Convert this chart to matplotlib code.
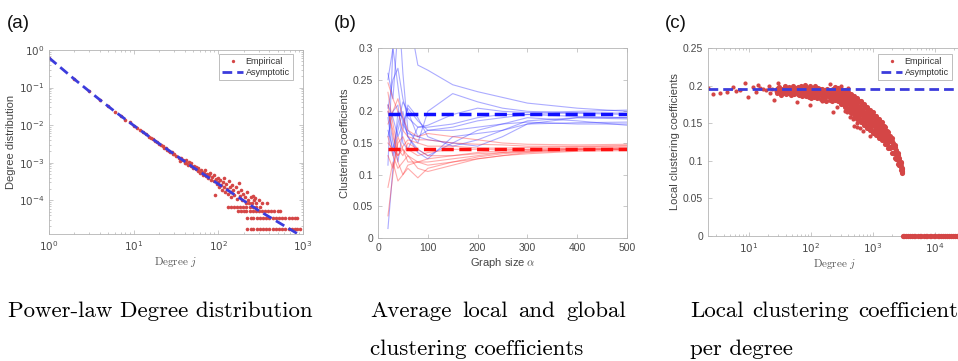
import matplotlib
matplotlib.use("Agg")
import matplotlib.pyplot as plt
import numpy as np
from matplotlib.lines import Line2D
from matplotlib.ticker import FixedLocator, FuncFormatter, LogLocator, NullFormatter

W, H = 958, 361
RED = '#d44646'
BLUE = '#3c3cdc'

# ---- (a) degree distribution ----
deg_j = [1, 2, 3, 4, 5, 6, 7, 8, 9, 10, 11, 12, 13, 14, 15, 16, 17, 18, 19, 20,
         21, 22, 23, 24, 25, 26, 27, 28, 29, 30]
deg_p = [0.62, 0.165, 0.080, 0.047, 0.0318, 0.0226, 0.0180, 0.0140, 0.0118, 0.0097,
         0.0086, 0.0072, 0.0065, 0.0058, 0.0049, 0.0046, 0.0042, 0.0037, 0.0035, 0.0032,
         0.0029, 0.0027, 0.0025, 0.0024, 0.0022, 0.0021, 0.0019, 0.0019, 0.0017, 0.0017]
tail_j = [32, 34, 35, 36, 38, 40, 41, 42, 44, 45, 47, 48, 50, 52, 54, 55, 57, 58, 60, 62,
          64, 66, 68, 70, 72, 74, 76, 78, 80, 82, 85, 88, 90, 91, 93, 96, 98, 100, 103, 106,
          108, 110, 113, 116, 118, 120, 124, 127, 130, 133, 136, 140, 143, 146, 150, 155, 160,
          165, 170, 175, 180, 186, 192, 198, 205, 210, 218, 225, 232, 240, 250, 255, 265, 270,
          280, 300, 330, 373]
tail_p = [1.5e-3, 1.35e-3, 1.1e-3, 1.3e-3, 1.15e-3, 9.5e-4, 1.2e-3, 1.0e-3, 8.5e-4, 1.05e-3,
          8.2e-4, 9.5e-4, 7.2e-4, 8.4e-4, 6.6e-4, 7.8e-4, 6.0e-4, 7.2e-4, 5.2e-4, 6.5e-4,
          5.6e-4, 4.6e-4, 5.4e-4, 6.2e-4, 4.3e-4, 5.0e-4, 3.8e-4, 4.6e-4, 5.4e-4, 3.4e-4,
          4.2e-4, 3.2e-4, 4.8e-4, 1.35e-4, 3.6e-4, 2.7e-4, 4.0e-4, 3.0e-4, 2.2e-4, 3.5e-4,
          2.6e-4, 1.9e-4, 3.1e-4, 2.3e-4, 4.0e-4, 1.7e-4, 2.7e-4, 2.0e-4, 1.5e-4, 3.3e-4,
          2.3e-4, 1.7e-4, 1.2e-4, 2.6e-4, 1.9e-4, 1.4e-4, 2.2e-4, 1.1e-4, 1.7e-4, 2.9e-4,
          1.3e-4, 1.9e-4, 1.0e-4, 1.5e-4, 1.2e-4, 8.5e-5, 1.7e-4, 1.0e-4, 8.5e-5, 1.2e-4,
          8.5e-5, 1.3e-4, 1.0e-4, 1.15e-4, 8.5e-5, 1.0e-4, 8.5e-5, 8.3e-5]
band1_j = [220, 240, 260, 285, 310, 340, 370, 400, 440, 480, 520, 570, 620, 680, 740, 800, 860, 910]
band2_j = [220, 240, 260, 285, 310, 340, 370, 400, 440, 480, 520, 570, 620, 680, 740, 800, 850]
band3_j = [170, 185, 200, 215, 235, 255, 275, 300, 325, 355, 385, 420, 460, 500, 530]
band4_j = [130, 142, 155, 168, 182, 198, 215, 235, 255, 280, 310]
band_p = [1.7e-5, 3.4e-5, 5.1e-5, 6.8e-5]
asym_a_j = [1, 2, 3, 4, 6, 10, 20, 50, 100, 300, 1000]
asym_a_p = [0.62, 0.166, 0.079, 0.047, 0.023, 0.0098, 0.0032, 7.6e-4, 2.7e-4, 5.3e-5, 1.05e-5]

# ---- (b) clustering coefficients vs graph size ----
size_alpha = [20, 30, 40, 50, 60, 80, 100, 150, 200, 250, 300, 400, 500]
local_runs = [
    [0.015, 0.11, 0.20, 0.19, 0.16, 0.14, 0.13, 0.15, 0.17, 0.18, 0.19, 0.185, 0.178],
    [0.26, 0.22, 0.33, 0.40, 0.36, 0.273, 0.265, 0.242, 0.231, 0.222, 0.213, 0.205, 0.200],
    [0.205, 0.25, 0.268, 0.22, 0.19, 0.175, 0.178, 0.195, 0.205, 0.20, 0.198, 0.20, 0.202],
    [0.115, 0.30, 0.38, 0.26, 0.17, 0.15, 0.20, 0.228, 0.215, 0.205, 0.20, 0.197, 0.195],
    [0.20, 0.15, 0.12, 0.17, 0.21, 0.19, 0.16, 0.145, 0.155, 0.17, 0.185, 0.19, 0.188],
    [0.16, 0.20, 0.21, 0.15, 0.14, 0.175, 0.175, 0.18, 0.19, 0.195, 0.195, 0.192, 0.19],
    [0.19, 0.13, 0.17, 0.20, 0.16, 0.135, 0.125, 0.16, 0.165, 0.17, 0.18, 0.182, 0.183],
    [0.21, 0.19, 0.16, 0.18, 0.205, 0.185, 0.17, 0.175, 0.185, 0.19, 0.195, 0.198, 0.197],
    [0.17, 0.14, 0.18, 0.215, 0.20, 0.16, 0.155, 0.15, 0.145, 0.16, 0.18, 0.19, 0.19],
    [0.25, 0.30, 0.24, 0.18, 0.165, 0.16, 0.17, 0.17, 0.175, 0.18, 0.183, 0.18, 0.18],
]
global_runs = [
    [0.035, 0.10, 0.16, 0.14, 0.13, 0.12, 0.12, 0.125, 0.13, 0.135, 0.138, 0.14, 0.14],
    [0.245, 0.22, 0.20, 0.17, 0.16, 0.155, 0.155, 0.15, 0.148, 0.147, 0.145, 0.145, 0.146],
    [0.08, 0.12, 0.09, 0.10, 0.11, 0.095, 0.11, 0.12, 0.125, 0.13, 0.135, 0.138, 0.14],
    [0.16, 0.13, 0.11, 0.12, 0.13, 0.11, 0.105, 0.115, 0.125, 0.13, 0.133, 0.137, 0.138],
    [0.23, 0.18, 0.14, 0.13, 0.15, 0.14, 0.13, 0.13, 0.135, 0.138, 0.14, 0.142, 0.143],
    [0.18, 0.20, 0.22, 0.19, 0.17, 0.16, 0.165, 0.16, 0.155, 0.15, 0.148, 0.147, 0.148],
    [0.21, 0.16, 0.13, 0.14, 0.12, 0.12, 0.125, 0.13, 0.133, 0.135, 0.137, 0.14, 0.142],
    [0.13, 0.11, 0.15, 0.16, 0.14, 0.13, 0.135, 0.14, 0.14, 0.14, 0.14, 0.141, 0.14],
    [0.20, 0.17, 0.12, 0.10, 0.115, 0.12, 0.115, 0.12, 0.128, 0.133, 0.136, 0.14, 0.141],
    [0.15, 0.14, 0.13, 0.145, 0.155, 0.15, 0.145, 0.145, 0.142, 0.142, 0.143, 0.144, 0.145],
]
local_limit = 0.195
global_limit = 0.14

# ---- (c) local clustering per degree ----
sparse_j = [2.2, 2.6, 3.4, 4.4, 5.5, 6.3, 7.2, 8.6, 9.6, 11.6, 13, 14, 15, 17, 19, 21, 22,
            24, 25, 27, 29, 31]
sparse_c = [0.197, 0.189, 0.19, 0.191, 0.198, 0.193, 0.194, 0.203, 0.185, 0.198, 0.192,
            0.201, 0.197, 0.195, 0.194, 0.199, 0.19, 0.196, 0.181, 0.193, 0.203, 0.198]
low_j = [28, 30, 31, 33, 35, 36, 38, 40, 41, 43, 45, 47, 49, 51, 53, 56, 58, 61, 64, 67, 70,
         73, 77, 80, 84, 88, 92, 96, 100, 105, 110, 115, 120, 126, 132, 138, 145, 152, 159,
         166, 174, 182, 190, 199, 208, 218, 228]
low_c1 = [0.195, 0.192, 0.198, 0.194, 0.19, 0.196, 0.193, 0.197, 0.191, 0.195, 0.192, 0.196,
          0.19, 0.194, 0.197, 0.191, 0.195, 0.189, 0.193, 0.196, 0.19, 0.194, 0.188, 0.192,
          0.195, 0.189, 0.193, 0.19, 0.194, 0.187, 0.191, 0.194, 0.188, 0.192, 0.186, 0.19,
          0.193, 0.187, 0.191, 0.185, 0.189, 0.192, 0.186, 0.19, 0.184, 0.188, 0.185]
low_c2 = [0.19, 0.197, 0.193, 0.188, 0.196, 0.191, 0.199, 0.189, 0.196, 0.19, 0.198, 0.188,
          0.195, 0.2, 0.189, 0.197, 0.192, 0.198, 0.187, 0.191, 0.199, 0.186, 0.196, 0.201,
          0.186, 0.197, 0.185, 0.199, 0.183, 0.196, 0.185, 0.2, 0.195, 0.183, 0.197, 0.195,
          0.182, 0.196, 0.181, 0.194, 0.18, 0.196, 0.193, 0.181, 0.194, 0.18, 0.192]
main_j = [230, 245, 260, 275, 290, 310, 330, 350, 370, 395, 420, 445, 470, 500, 530, 560,
          595, 630, 670, 710, 750, 795, 840, 890, 940, 1000, 1060, 1120, 1190, 1260, 1330,
          1410, 1490, 1580, 1670, 1770, 1870, 1980, 2100, 2220, 2350, 2480, 2620, 2770, 2920]
main_c1 = [0.196, 0.198, 0.195, 0.197, 0.194, 0.196, 0.192, 0.194, 0.190, 0.192, 0.188, 0.189,
           0.186, 0.186, 0.182, 0.183, 0.179, 0.180, 0.176, 0.176, 0.171, 0.172, 0.168, 0.168,
           0.164, 0.165, 0.160, 0.160, 0.156, 0.156, 0.151, 0.151, 0.146, 0.145, 0.140, 0.138,
           0.133, 0.130, 0.124, 0.121, 0.115, 0.111, 0.104, 0.099, 0.091]
main_c2 = [0.191, 0.194, 0.192, 0.193, 0.189, 0.191, 0.187, 0.189, 0.185, 0.187, 0.182, 0.184,
           0.179, 0.180, 0.175, 0.177, 0.172, 0.174, 0.168, 0.170, 0.164, 0.166, 0.161, 0.163,
           0.157, 0.159, 0.153, 0.155, 0.149, 0.150, 0.145, 0.146, 0.140, 0.140, 0.134, 0.134,
           0.127, 0.126, 0.119, 0.118, 0.111, 0.108, 0.101, 0.097, 0.089]
main_c3 = [0.189, 0.188, 0.190, 0.187, 0.188, 0.184, 0.185, 0.182, 0.183, 0.179, 0.179, 0.175,
           0.176, 0.171, 0.172, 0.168, 0.169, 0.165, 0.166, 0.161, 0.162, 0.157, 0.158, 0.154,
           0.155, 0.150, 0.151, 0.146, 0.147, 0.142, 0.143, 0.138, 0.139, 0.133, 0.132, 0.127,
           0.126, 0.120, 0.118, 0.112, 0.110, 0.103, 0.100, 0.093, 0.087]
main_c4 = [0.185, 0.187, 0.184, 0.186, 0.181, 0.183, 0.178, 0.180, 0.175, 0.177, 0.171, 0.173,
           0.167, 0.168, 0.162, 0.165, 0.159, 0.162, 0.156, 0.158, 0.152, 0.154, 0.148, 0.151,
           0.145, 0.147, 0.141, 0.143, 0.137, 0.139, 0.133, 0.135, 0.130, 0.130, 0.124, 0.125,
           0.118, 0.118, 0.111, 0.110, 0.104, 0.101, 0.095, 0.092, 0.085]
main_c5 = [0.183, 0.181, 0.182, 0.179, 0.179, 0.176, 0.175, 0.172, 0.172, 0.168, 0.168, 0.164,
           0.164, 0.158, 0.159, 0.155, 0.156, 0.152, 0.152, 0.148, 0.148, 0.144, 0.145, 0.141,
           0.141, 0.137, 0.138, 0.134, 0.134, 0.130, 0.130, 0.127, 0.127, 0.122, 0.122, 0.117,
           0.117, 0.111, 0.110, 0.104, 0.103, 0.096, 0.094, 0.088, 0.084]
odd_j = [200, 300, 400, 260, 350, 430, 500, 560, 620, 470, 700, 900, 380, 96, 60, 150, 230, 550]
odd_c = [0.202, 0.2, 0.197, 0.172, 0.166, 0.158, 0.146, 0.15, 0.143, 0.155, 0.139, 0.133,
         0.165, 0.174, 0.178, 0.18, 0.165, 0.145]
zero_j = [3000, 3200, 3400, 3650, 3900, 4200, 4500, 4800, 5200, 5600, 6000, 6500, 7000, 7500,
          8100, 8700, 9400, 10100, 10900, 11700, 12600, 13600, 14600, 15700, 16900, 18200,
          19600, 21100, 22700, 24400, 26300, 28300]
local_asym = 0.195


def px_axes(fig, left, top, right, bottom):
    return fig.add_axes([left / W, 1 - bottom / H, (right - left) / W, (bottom - top) / H])


def dots(ax, xs, ys, size=2.6, **kw):
    ax.plot(xs, ys, ls='none', marker='o', color=RED, ms=size, mew=0, **kw)


def matlab_look(ax):
    for s in ax.spines.values():
        s.set_color('#b4b4b4')
        s.set_linewidth(0.6)
    ax.tick_params(which='both', direction='in', top=True, right=True, colors='#b4b4b4',
                   labelcolor='#4a4a4a', labelsize=7.5, width=0.5)
    ax.tick_params(which='major', length=3)
    ax.tick_params(which='minor', length=1.5)


def log_labels(v, pos):
    return r'$10^{%d}$' % int(round(np.log10(v)))


def legend_at(ax, fig, right, top):
    handles = [Line2D([], [], ls='none', marker='o', color=RED, ms=2.4, mew=0),
               Line2D([], [], ls=(0, (3.5, 1.8)), color=BLUE, lw=2)]
    leg = ax.legend(handles, ['Empirical', 'Asymptotic'], loc='upper right',
                    bbox_to_anchor=(right / W, 1 - top / H), bbox_transform=fig.transFigure,
                    fontsize=6.5, frameon=True, fancybox=False, borderpad=0.35,
                    handlelength=2.3, handletextpad=0.3, labelspacing=0.2, borderaxespad=0)
    leg.get_frame().set_edgecolor('#a0a0a0')
    leg.get_frame().set_linewidth(0.6)
    for t in leg.get_texts():
        t.set_color('#333333')


def justified(fig, words, x0, x1, y, size):
    texts = [fig.text(0, 1 - y / H, w, fontsize=size, fontfamily='cmr10', va='baseline')
             for w in words]
    r = fig.canvas.get_renderer()
    widths = [t.get_window_extent(r).width for t in texts]
    gap = (x1 - x0 - sum(widths)) / max(len(words) - 1, 1)
    x = x0
    for t, w in zip(texts, widths):
        t.set_x(x / W)
        x += w + gap


fig = plt.figure(figsize=(W / 100, H / 100), dpi=100)
plt.rcParams['font.family'] = ['Liberation Sans', 'DejaVu Sans']

# (a)
ax = px_axes(fig, 49, 50, 303, 234)
ax.set_xscale('log')
ax.set_yscale('log')
dots(ax, deg_j, deg_p)
dots(ax, tail_j, tail_p)
for band, level in zip([band1_j, band2_j, band3_j, band4_j], band_p):
    dots(ax, band, [level] * len(band))
ax.plot(asym_a_j, asym_a_p, ls=(0, (3.5, 1.8)), color=BLUE, lw=2)
ax.set_xlim(1, 1000)
ax.set_ylim(1.26e-5, 1)
ax.xaxis.set_major_locator(FixedLocator([1, 10, 100, 1000]))
ax.yaxis.set_major_locator(FixedLocator([1e-4, 1e-3, 1e-2, 1e-1, 1]))
ax.xaxis.set_major_formatter(FuncFormatter(log_labels))
ax.yaxis.set_major_formatter(FuncFormatter(log_labels))
ax.xaxis.set_minor_locator(LogLocator(base=10, subs=np.arange(2, 10), numticks=20))
ax.yaxis.set_minor_locator(LogLocator(base=10, subs=np.arange(2, 10), numticks=20))
ax.xaxis.set_minor_formatter(NullFormatter())
ax.yaxis.set_minor_formatter(NullFormatter())
matlab_look(ax)
ax.set_ylabel('Degree distribution', fontsize=8, color='#444444', labelpad=2)
ax.set_xlabel('Degree $j$', fontsize=8, color='#555555', fontfamily='cmr10',
              math_fontfamily='cm', labelpad=2)
legend_at(ax, fig, 293, 54)

# (b)
ax = px_axes(fig, 378, 48, 627, 238)
for run in local_runs:
    ax.plot(size_alpha, run, color='#3030ff', lw=0.8, alpha=0.4)
for run in global_runs:
    ax.plot(size_alpha, run, color='#ff3030', lw=0.8, alpha=0.4)
ax.plot([size_alpha[0], size_alpha[-1]], [local_limit, local_limit], color='#1010ff', lw=2.5,
        ls=(0, (3.5, 1.6)))
ax.plot([size_alpha[0], size_alpha[-1]], [global_limit, global_limit], color='#ff1010', lw=2.5,
        ls=(0, (3.5, 1.6)))
ax.set_xlim(0, 500)
ax.set_ylim(0, 0.3)
ax.set_xticks([0, 100, 200, 300, 400, 500])
ax.set_yticks([0, 0.05, 0.1, 0.15, 0.2, 0.25, 0.3])
ax.yaxis.set_major_formatter(FuncFormatter(lambda v, pos: '%g' % round(v, 2)))
matlab_look(ax)
ax.set_ylabel('Clustering coefficients', fontsize=8, color='#444444', labelpad=2)
ax.set_xlabel(r'Graph size $\alpha$', fontsize=8, color='#444444', math_fontfamily='cm',
              labelpad=2)

# (c)
ax = px_axes(fig, 708, 48, 962, 236)
ax.set_xscale('log')
dots(ax, sparse_j, sparse_c, size=3.0)
dots(ax, odd_j, odd_c, size=3.0)
for xs, ys in [(low_j, low_c1), (low_j, low_c2), (main_j, main_c1), (main_j, main_c2),
               (main_j, main_c3), (main_j, main_c4), (main_j, main_c5)]:
    dots(ax, xs, ys, size=3.7)
dots(ax, zero_j, [0] * len(zero_j), size=3.8, clip_on=False, zorder=3)
ax.axhline(local_asym, color=BLUE, lw=2, ls=(0, (3.5, 1.8)))
ax.set_xlim(2.2, 27000)
ax.set_ylim(0, 0.25)
ax.set_yticks([0, 0.05, 0.1, 0.15, 0.2, 0.25])
ax.yaxis.set_major_formatter(FuncFormatter(lambda v, pos: '%g' % round(v, 2)))
ax.xaxis.set_major_locator(FixedLocator([10, 100, 1000, 10000]))
ax.xaxis.set_major_formatter(FuncFormatter(log_labels))
ax.xaxis.set_minor_locator(LogLocator(base=10, subs=np.arange(2, 10), numticks=20))
ax.xaxis.set_minor_formatter(NullFormatter())
matlab_look(ax)
ax.set_ylabel('Local clustering coefficients', fontsize=8, color='#444444', labelpad=2)
ax.set_xlabel('Degree $j$', fontsize=8, color='#555555', fontfamily='cmr10',
              math_fontfamily='cm', labelpad=2)
legend_at(ax, fig, 952, 54)

# panel letters
for x, s in [(7, '(a)'), (334, '(b)'), (665, '(c)')]:
    fig.text(x / W, 1 - 23 / H, s, fontsize=13.5, va='center', color='#111111')

# captions
CAP = 16.5
fig.text(8 / W, 1 - 317 / H, 'Power-law Degree distribution', fontsize=CAP,
         fontfamily='cmr10', va='baseline')
justified(fig, ['Average', 'local', 'and', 'global'], 370, 626, 317, CAP)
fig.text(370 / W, 1 - 355 / H, 'clustering coefficients', fontsize=CAP, fontfamily='cmr10',
         va='baseline')
justified(fig, ['Local', 'clustering', 'coefficient'], 690, 958, 317, CAP)
fig.text(690 / W, 1 - 355 / H, 'per degree', fontsize=CAP, fontfamily='cmr10', va='baseline')

fig.savefig('out.png', dpi=100)
